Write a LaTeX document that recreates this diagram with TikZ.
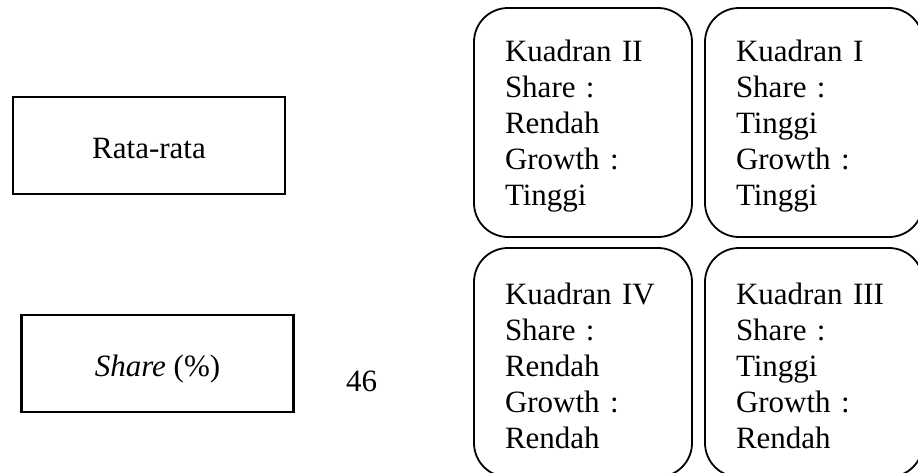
\documentclass[tikz,border=0pt]{standalone}
\usepackage{fontspec}
\setmainfont{Liberation Serif}
\begin{document}
\begin{tikzpicture}[x=1pt,y=-1pt,
  txt/.style={font=\fontsize{31}{36}\selectfont},
  plainbox/.style={txt, draw, line width=2.4pt, minimum width=272pt,
    minimum height=97pt, inner sep=0pt, text height=25pt, text depth=0pt},
  quadbox/.style={txt, draw, line width=1.8pt, rounded corners=34pt,
    minimum width=218pt, minimum height=229pt, text width=156pt,
    inner xsep=31pt, inner ysep=0pt, align=left},
]
\useasboundingbox (0,0) rectangle (918,472);
\clip (0,0) rectangle (918,472);

% labels on the left
\node[plainbox] (avg) at (149,145.5) {Rata-rata};
\node[plainbox] (share) at (157.5,363.5) {\textit{Share} (\%)};
\node[txt] (num) at (361.5,381) {46};

% the four quadrants
\node[quadbox] (q2) at (583,122.5)
  {\rule{0pt}{28pt}Kuadran II\\Share :\\Rendah\\Growth :\\Tinggi};
\node[quadbox] (q1) at (814,122.5)
  {\rule{0pt}{28pt}Kuadran I\\Share :\\Tinggi\\Growth :\\Tinggi};
\node[quadbox] (q4) at (583,362.5)
  {\rule{0pt}{28pt}Kuadran IV\\Share :\\Rendah\\Growth :\\Rendah};
\node[quadbox] (q3) at (814,362.5)
  {\rule{0pt}{28pt}Kuadran III\\Share :\\Tinggi\\Growth :\\Rendah};
\end{tikzpicture}
\end{document}
